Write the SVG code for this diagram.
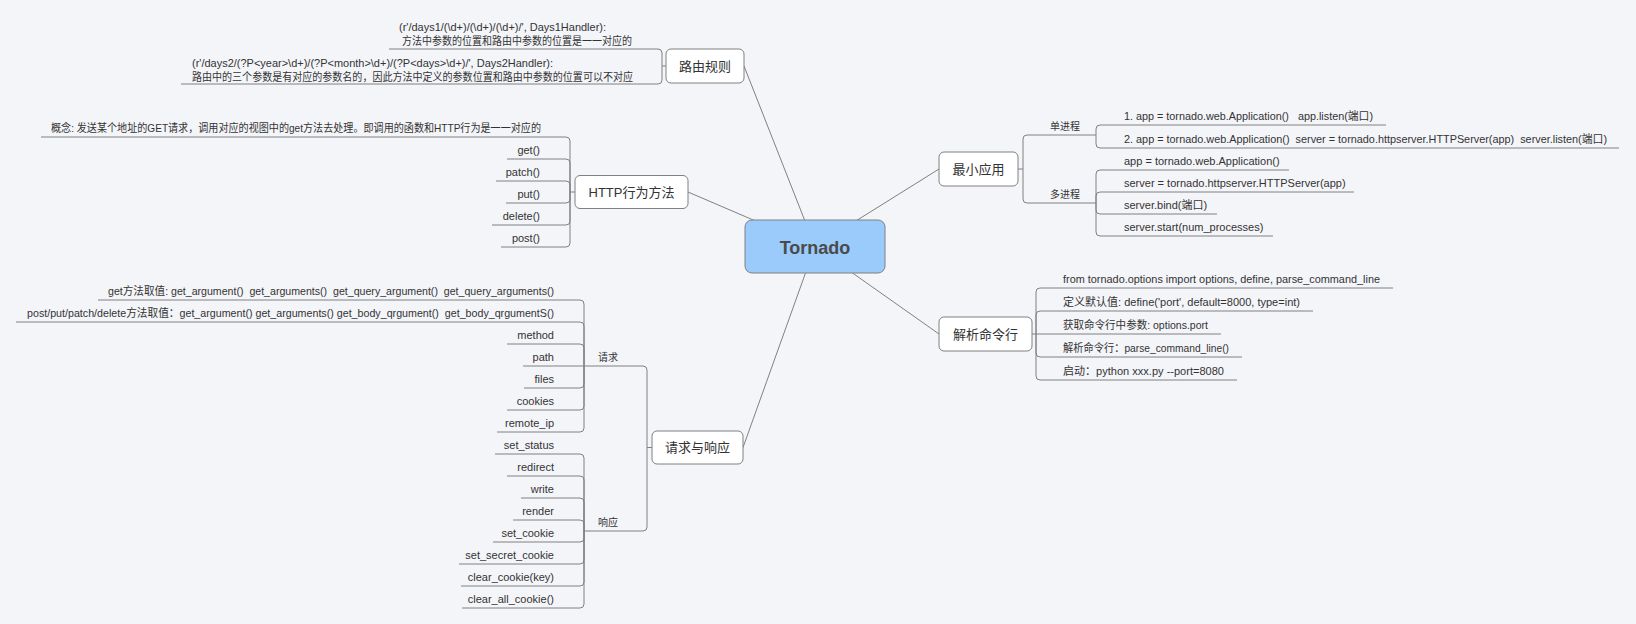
<svg xmlns="http://www.w3.org/2000/svg" width="1636" height="624" viewBox="0 0 1636 624">
<style>
.bg{fill:#F4F5F9}
.ln{fill:none;stroke:#808080;stroke-width:1}
.box{fill:#FFFFFF;stroke:#808080;stroke-width:1}
.t{font-family:"Liberation Sans","Noto Sans CJK SC",sans-serif;font-size:11px;fill:#333333;white-space:pre}
.s{font-size:10px}
.m{font-size:13px;text-anchor:middle}
.e{text-anchor:end}
</style>
<rect class="bg" x="0" y="0" width="1636" height="624"/>
<g id="connectors" class="ln">
<line x1="815" y1="246.5" x2="744" y2="66"/>
<line x1="815" y1="246.5" x2="688" y2="192"/>
<line x1="815" y1="246.5" x2="743" y2="447.5"/>
<line x1="815" y1="246.5" x2="939" y2="169"/>
<line x1="815" y1="246.5" x2="939" y2="334"/>
</g>
<g id="tornado">
<rect x="745" y="220" width="140" height="53" rx="7" fill="#9ACBFB" stroke="#808080"/>
<text class="t" x="815" y="253.5" text-anchor="middle" style="font-size:18px;font-weight:bold;fill:#4A4A4A">Tornado</text>
</g>
<g id="routing">
<path class="ln" d="M666 66 H662 V53 Q662 49 658 49 H389"/>
<path class="ln" d="M662 66 V80 Q662 84 658 84 H181"/>
<rect class="box" x="666" y="49" width="78" height="34" rx="5"/>
<text class="t m" x="705" y="70.5">路由规则</text>
<text class="t" x="399" y="30.5" textLength="207" lengthAdjust="spacingAndGlyphs">(r'/days1/(\d+)/(\d+)/(\d+)/', Days1Handler):</text>
<text class="t" x="402" y="45" textLength="230" lengthAdjust="spacingAndGlyphs">方法中参数的位置和路由中参数的位置是一一对应的</text>
<text class="t" x="192" y="67" textLength="361" lengthAdjust="spacingAndGlyphs">(r'/days2/(?P&lt;year&gt;\d+)/(?P&lt;month&gt;\d+)/(?P&lt;days&gt;\d+)/', Days2Handler):</text>
<text class="t" x="192" y="80.5" textLength="441" lengthAdjust="spacingAndGlyphs">路由中的三个参数是有对应的参数名的，因此方法中定义的参数位置和路由中参数的位置可以不对应</text>
</g>
<g id="http">
<path class="ln" d="M575 192 H570 V141 Q570 137 566 137 H41"/>
<path class="ln" d="M570 192 V163 Q570 159 566 159 H507"/>
<path class="ln" d="M570 192 V185 Q570 181 566 181 H496"/>
<path class="ln" d="M570 192 V199 Q570 203 566 203 H506"/>
<path class="ln" d="M570 192 V221 Q570 225 566 225 H492"/>
<path class="ln" d="M570 192 V243 Q570 247 566 247 H501"/>
<rect class="box" x="575" y="175.5" width="113" height="33" rx="5"/>
<text class="t m" x="631.5" y="196.5">HTTP行为方法</text>
<text class="t" x="51" y="132" textLength="490" lengthAdjust="spacingAndGlyphs">概念: 发送某个地址的GET请求，调用对应的视图中的get方法去处理。即调用的函数和HTTP行为是一一对应的</text>
<text class="t e" x="540" y="154">get()</text>
<text class="t e" x="540" y="176">patch()</text>
<text class="t e" x="540" y="198">put()</text>
<text class="t e" x="540" y="220">delete()</text>
<text class="t e" x="540" y="242">post()</text>
</g>
<g id="reqresp">
<path class="ln" d="M652 447.5 H647 V370 Q647 366 643 366 H584"/>
<path class="ln" d="M647 447.5 V527 Q647 531 643 531 H584"/>
<rect class="box" x="652" y="431" width="91" height="33" rx="5"/>
<text class="t m" x="697.5" y="452">请求与响应</text>
<text class="t s" x="598" y="361">请求</text>
<text class="t s" x="598" y="526">响应</text>
</g>
<g id="request">
<path class="ln" d="M584 366 V304 Q584 300 580 300 H98"/>
<path class="ln" d="M584 366 V326 Q584 322 580 322 H16"/>
<path class="ln" d="M584 366 V348 Q584 344 580 344 H507"/>
<path class="ln" d="M584 366 H523"/>
<path class="ln" d="M584 366 V384 Q584 388 580 388 H524"/>
<path class="ln" d="M584 366 V406 Q584 410 580 410 H507"/>
<path class="ln" d="M584 366 V428 Q584 432 580 432 H497"/>
<text class="t" x="108" y="295" textLength="446" lengthAdjust="spacingAndGlyphs">get方法取值: get_argument()  get_arguments()  get_query_argument()  get_query_arguments()</text>
<text class="t" x="27" y="317" textLength="527" lengthAdjust="spacingAndGlyphs">post/put/patch/delete方法取值：get_argument() get_arguments() get_body_qrgument()  get_body_qrgumentS()</text>
<text class="t e" x="554" y="339">method</text>
<text class="t e" x="554" y="361">path</text>
<text class="t e" x="554" y="383">files</text>
<text class="t e" x="554" y="405">cookies</text>
<text class="t e" x="554" y="427">remote_ip</text>
</g>
<g id="response">
<path class="ln" d="M584 531 V458 Q584 454 580 454 H495"/>
<path class="ln" d="M584 531 V480 Q584 476 580 476 H507"/>
<path class="ln" d="M584 531 V502 Q584 498 580 498 H521"/>
<path class="ln" d="M584 531 V524 Q584 520 580 520 H513"/>
<path class="ln" d="M584 531 V538 Q584 542 580 542 H493"/>
<path class="ln" d="M584 531 V560 Q584 564 580 564 H459"/>
<path class="ln" d="M584 531 V582 Q584 586 580 586 H461"/>
<path class="ln" d="M584 531 V604 Q584 608 580 608 H462"/>
<text class="t e" x="554" y="449">set_status</text>
<text class="t e" x="554" y="471">redirect</text>
<text class="t e" x="554" y="493">write</text>
<text class="t e" x="554" y="515">render</text>
<text class="t e" x="554" y="537">set_cookie</text>
<text class="t e" x="554" y="559">set_secret_cookie</text>
<text class="t e" x="554" y="581">clear_cookie(key)</text>
<text class="t e" x="554" y="603">clear_all_cookie()</text>
</g>
<g id="minimal">
<path class="ln" d="M1018 169 H1023 V139 Q1023 135 1027 135 H1096"/>
<path class="ln" d="M1023 169 V199 Q1023 203 1027 203 H1096"/>
<rect class="box" x="939" y="152" width="79" height="34" rx="5"/>
<text class="t m" x="978.5" y="173.5">最小应用</text>
<text class="t s" x="1050" y="130">单进程</text>
<text class="t s" x="1050" y="198">多进程</text>
</g>
<g id="single">
<path class="ln" d="M1096 135 V129 Q1096 125 1100 125 H1386"/>
<path class="ln" d="M1096 135 V144 Q1096 148 1100 148 H1619"/>
<text class="t" x="1124" y="120" textLength="249" lengthAdjust="spacingAndGlyphs">1. app = tornado.web.Application()   app.listen(端口)</text>
<text class="t" x="1124" y="143" textLength="483" lengthAdjust="spacingAndGlyphs">2. app = tornado.web.Application()  server = tornado.httpserver.HTTPServer(app)  server.listen(端口)</text>
</g>
<g id="multi">
<path class="ln" d="M1096 203 V174 Q1096 170 1100 170 H1289"/>
<path class="ln" d="M1096 203 V196 Q1096 192 1100 192 H1354"/>
<path class="ln" d="M1096 203 V210 Q1096 214 1100 214 H1217"/>
<path class="ln" d="M1096 203 V232 Q1096 236 1100 236 H1273"/>
<text class="t" x="1124" y="165">app = tornado.web.Application()</text>
<text class="t" x="1124" y="187">server = tornado.httpserver.HTTPServer(app)</text>
<text class="t" x="1124" y="209">server.bind(端口)</text>
<text class="t" x="1124" y="231">server.start(num_processes)</text>
</g>
<g id="cmdline">
<path class="ln" d="M1032 334 H1036 V292 Q1036 288 1040 288 H1393"/>
<path class="ln" d="M1036 334 V315 Q1036 311 1040 311 H1313"/>
<path class="ln" d="M1036 334 H1221"/>
<path class="ln" d="M1036 334 V353 Q1036 357 1040 357 H1242"/>
<path class="ln" d="M1036 334 V376 Q1036 380 1040 380 H1237"/>
<rect class="box" x="939" y="317" width="93" height="34" rx="5"/>
<text class="t m" x="985.5" y="338.5">解析命令行</text>
<text class="t" x="1063" y="283" textLength="317" lengthAdjust="spacingAndGlyphs">from tornado.options import options, define, parse_command_line</text>
<text class="t" x="1063" y="306" textLength="237" lengthAdjust="spacingAndGlyphs">定义默认值: define('port', default=8000, type=int)</text>
<text class="t" x="1063" y="329" textLength="145" lengthAdjust="spacingAndGlyphs">获取命令行中参数: options.port</text>
<text class="t" x="1063" y="352" textLength="166" lengthAdjust="spacingAndGlyphs">解析命令行：parse_command_line()</text>
<text class="t" x="1063" y="375" textLength="161" lengthAdjust="spacingAndGlyphs">启动：python xxx.py --port=8080</text>
</g>
</svg>
